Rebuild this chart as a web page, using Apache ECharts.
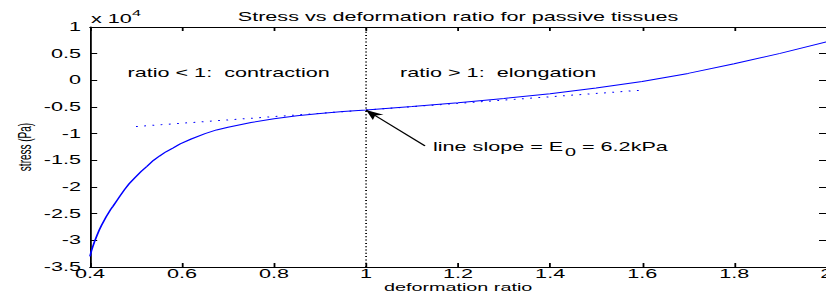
<!DOCTYPE html>
<html>
<head>
<meta charset="utf-8">
<script src="https://cdn.jsdelivr.net/npm/echarts@6/dist/echarts.min.js"></script>
<style>
  html, body { margin: 0; padding: 0; overflow: hidden; background: #fff; }
  /* the reference figure is a matlab plot stretched sideways, so the chart is drawn narrow and stretched */
  #container { width: 459px; height: 293px; transform: scaleX(1.8); transform-origin: 0 0; }
</style>
</head>
<body>
<div id="container"></div>
<script>
var S = 1.8;
var font = "'Liberation Sans', Arial, sans-serif";

// deformation ratio vs stress (x 10^4 Pa)
var ratio  = [0.400, 0.403, 0.406, 0.410, 0.415, 0.420, 0.425, 0.430, 0.435, 0.440, 0.445, 0.450,
              0.458, 0.465, 0.475, 0.485, 0.497, 0.511, 0.524, 0.538, 0.551, 0.565, 0.580, 0.596,
              0.620, 0.650, 0.675, 0.700, 0.750, 0.800, 0.850, 0.900, 0.950, 1.000, 1.050, 1.100,
              1.200, 1.300, 1.400, 1.500, 1.600, 1.700, 1.800, 1.900, 2.000];
var stress = [-3.30, -3.20, -3.12, -3.02, -2.91, -2.81, -2.72, -2.64, -2.56, -2.49, -2.42, -2.36,
              -2.26, -2.17, -2.05, -1.94, -1.83, -1.71, -1.61, -1.50, -1.42, -1.34, -1.27, -1.19,
              -1.10, -1.00, -0.93, -0.88, -0.79, -0.72, -0.665, -0.62, -0.585, -0.556, -0.523, -0.49,
              -0.42, -0.34, -0.25, -0.145, -0.02, 0.13, 0.31, 0.505, 0.72];

// tangent at ratio = 1 (slope E0 = 6.2 kPa)
var tangentX = [0.5, 1.6];
var tangentY = [-0.866, -0.184];

// split line at ratio = 1
var splitX = [1, 1];
var splitY = [-3.5, 1];

// arrow from the label to the tangent point
var arrowFrom = [1.128, -1.23];
var arrowTo = [1.0, -0.556];

function pairs(xs, ys) {
  return xs.map(function (x, i) { return [x, ys[i]]; });
}

var myChart = echarts.init(document.getElementById('container'), null, { renderer: 'svg' });

function txt(x, y, text, size, align) {
  return {
    type: 'text', x: x / S, y: y, silent: true,
    style: { text: text, fill: '#000', font: (size || 12) + 'px ' + font,
             align: align || 'left', verticalAlign: 'middle' }
  };
}

var axisBase = {
  axisLine: { show: true, onZero: false, lineStyle: { color: '#000', width: 1 } },
  axisTick: { show: true, inside: true, length: 4, lineStyle: { color: '#000' } },
  splitLine: { show: false }
};

var option = {
  animation: false,
  backgroundColor: '#fff',
  grid: { left: 50, right: 0, top: 27, bottom: 26, outerBoundsMode: 'none', containLabel: false },
  xAxis: [
    Object.assign({}, axisBase, {
      type: 'value', min: 0.4, max: 2, interval: 0.2, position: 'bottom',
      axisLabel: { color: '#000', fontSize: 12, fontFamily: font, margin: 2, lineHeight: 10 },
      name: 'deformation ratio', nameLocation: 'middle', nameGap: 15, nameMoveOverlap: false,
      nameTextStyle: { color: '#000', fontSize: 11, fontFamily: font, lineHeight: 10 }
    }),
    Object.assign({}, axisBase, {
      type: 'value', min: 0.4, max: 2, interval: 0.2, position: 'top',
      axisLabel: { show: false }
    })
  ],
  yAxis: [
    Object.assign({}, axisBase, {
      type: 'value', min: -3.5, max: 1, interval: 0.5, position: 'left',
      axisLabel: { color: '#000', fontSize: 12, fontFamily: font, margin: 5 },
      name: 'stress (Pa)', nameLocation: 'middle', nameGap: 31, nameMoveOverlap: false,
      nameTextStyle: { color: '#000', fontSize: 10, fontFamily: font }
    }),
    Object.assign({}, axisBase, {
      type: 'value', min: -3.5, max: 1, interval: 0.5, position: 'right',
      axisLabel: { show: false }
    })
  ],
  series: [
    {
      type: 'line', data: pairs(splitX, splitY), showSymbol: false, silent: true,
      lineStyle: { color: '#000', width: 1, type: [1, 2.3] }
    },
    {
      type: 'line', data: pairs(tangentX, tangentY), showSymbol: false, silent: true,
      lineStyle: { color: '#0000ff', width: 1, type: [1, 3.6] }
    },
    {
      type: 'line', data: pairs(ratio, stress), showSymbol: false, silent: true,
      lineStyle: { color: '#0000ff', width: 1 },
      markLine: {
        silent: true, symbol: ['none', 'arrow'], symbolSize: [6, 10],
        label: { show: false },
        lineStyle: { color: '#000', width: 1, type: 'solid' },
        data: [[{ coord: arrowFrom }, { coord: arrowTo }]]
      }
    }
  ],
  graphic: [
    txt(458, 16.5, 'Stress vs deformation ratio for passive tissues', 12, 'center'),
    txt(91, 19, 'x 10'),
    txt(132, 13, '4', 9),
    txt(127.5, 73, 'ratio < 1:  contraction'),
    txt(400, 73, 'ratio > 1:  elongation'),
    txt(433, 147, 'line slope = E'),
    txt(565, 152, '0', 11),
    txt(582, 147, '= 6.2kPa')
  ]
};

option && myChart.setOption(option);
</script>
</body>
</html>
